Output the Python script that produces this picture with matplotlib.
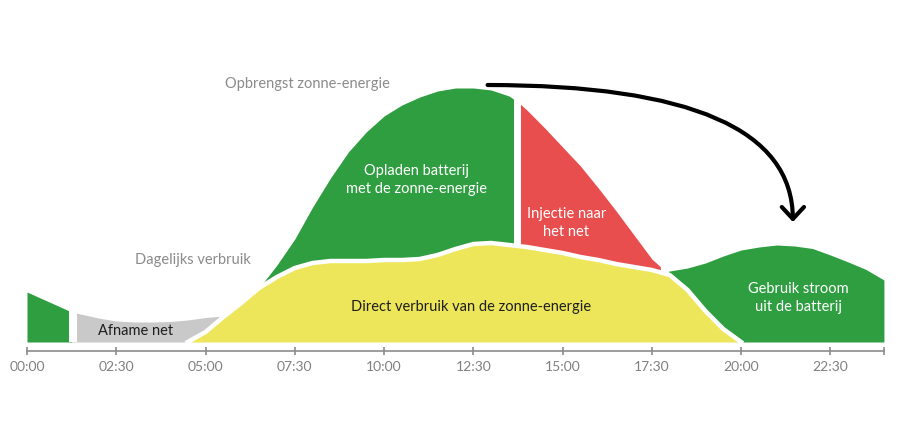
import numpy as np
import matplotlib.pyplot as plt
from matplotlib.patches import FancyArrowPatch

plt.rcParams['font.family'] = ['Lato', 'DejaVu Sans']

# uur van de dag, verbruik en zonne-opbrengst (relatieve hoogte)
hours = np.array([0, 0.5, 1.0, 1.25, 1.5, 2.0, 2.5, 3.0, 3.5, 4.0, 4.5, 5.0, 5.5,
                  6.0, 6.5, 7.0, 7.5, 8.0, 8.5, 9.0, 9.5, 10.0, 10.5, 11.0, 11.5,
                  12.0, 12.5, 13.0, 13.5, 13.75, 14.0, 14.5, 15.0, 15.5, 16.0, 16.5,
                  17.0, 17.5, 18.0, 18.5, 19.0, 19.5, 20.0, 20.5, 21.0, 21.5, 22.0,
                  22.5, 23.0, 23.5, 24.0])
verbruik = np.array([50, 42, 34, 30, 28, 24, 21, 20, 20, 20.5, 22, 24.5, 26,
                     39, 54, 65, 74, 79, 81, 81, 81, 82, 82, 83, 87,
                     93, 98, 99, 97, 96, 95, 92, 89, 85, 82, 78,
                     75, 72, 71, 74, 79, 86, 92, 95, 97, 96, 93.5,
                     87, 80, 72.5, 62])
zon = np.array([0, 0, 0, 0, 0, 0, 0, 0, 0, 0, 0, 10, 25,
                39, 54, 77, 103, 135, 164, 190, 210, 226, 237, 245, 251,
                254, 254, 252, 246, 240, 232, 214, 195, 176, 154, 131,
                107, 83, 67, 52, 31, 13, 0, 0, 0, 0, 0,
                0, 0, 0, 0])

tick_pos = [0, 2.5, 5, 7.5, 10, 12.5, 15, 17.5, 20, 22.5, 24]
tick_labels = ['00:00', '02:30', '05:00', '07:30', '10:00', '12:30',
               '15:00', '17:30', '20:00', '22:30', '']

green = '#2f9e41'
red = '#e94e4f'
yellow = '#ede65a'
grey = '#c9c9c9'
txt_grey = '#8b8b8b'

fig = plt.figure(figsize=(9, 4.21), dpi=100)
ax = fig.add_axes([0, 0, 1, 1])
ax.set_xlim(-0.756, 24.45)
ax.set_ylim(-79, 342)

direct = np.minimum(zon, verbruik)

# batterij 's nachts en afname van het net
ax.fill_between(hours, 0, verbruik, where=hours <= 1.25, color=green, lw=0, zorder=1)
ax.fill_between(hours, zon, verbruik, where=(hours >= 1.25) & (hours <= 5.5),
                color=grey, lw=0, zorder=1)
# overschot zonne-energie: laden en injectie
ax.fill_between(hours, verbruik, zon, where=(zon >= verbruik) & (hours <= 13.75),
                interpolate=True, color=green, lw=0, zorder=1)
ax.fill_between(hours, verbruik, zon, where=(zon >= verbruik) & (hours >= 13.75),
                interpolate=True, color=red, lw=0, zorder=1)
# avond: stroom uit de batterij
ax.fill_between(hours, zon, verbruik, where=(verbruik >= zon) & (hours >= 17.5),
                interpolate=True, color=green, lw=0, zorder=1)

# witte scheidingen
ax.vlines([1.29], 0, 60, color='white', lw=5.8, zorder=1.5)
ax.vlines([13.71], 0, 250, color='white', lw=5.0, zorder=1.5)
ax.vlines([17.86], 60, 85, color='white', lw=6.0, zorder=1.5)

# direct verbruik
m = (hours >= 4.5) & (hours <= 20)
ax.fill_between(hours, 0, direct, where=m, color=yellow, lw=0, zorder=2)
ax.plot(hours[m], direct[m], color='white', lw=3.2, solid_joinstyle='round', zorder=2.5)

# as
for s in ['top', 'left', 'right']:
    ax.spines[s].set_visible(False)
ax.spines['bottom'].set_position(('data', -9))
ax.spines['bottom'].set_bounds(0, 24)
ax.spines['bottom'].set_color('#8c8c8c')
ax.spines['bottom'].set_linewidth(1.2)
ax.set_xticks(tick_pos)
ax.set_xticklabels(tick_labels)
ax.tick_params(axis='x', direction='inout', length=6, width=1.2, color='#8c8c8c',
               labelcolor='#808080', labelsize=10, pad=4)
ax.set_yticks([])

# teksten
fs = 10.5
ax.text(5.55, 258, 'Opbrengst zonne-energie', color=txt_grey, fontsize=fs, va='center')
ax.text(3.03, 82, 'Dagelijks verbruik', color=txt_grey, fontsize=fs, va='center')
ax.text(10.92, 162, 'Opladen batterij\nmet de zonne-energie', color='white',
        fontsize=fs, ha='center', va='center', linespacing=1.35, zorder=4)
ax.text(15.1, 119, 'Injectie naar\nhet net', color='white', fontsize=fs,
        ha='center', va='center', linespacing=1.35, zorder=4)
ax.text(12.44, 35, 'Direct verbruik van de zonne-energie', color='#1e1e1e',
        fontsize=fs, ha='center', va='center', zorder=4)
ax.text(3.03, 11, 'Afname net', color='#1e1e1e', fontsize=fs, ha='center',
        va='center', zorder=4)
ax.text(21.6, 44, 'Gebruik stroom\nuit de batterij', color='white', fontsize=fs,
        ha='center', va='center', linespacing=1.35, zorder=4)

# pijl van de middagpiek naar de avond
arrow = FancyArrowPatch((12.9, 257), (21.45, 120),
                        connectionstyle='angle3,angleA=0,angleB=90',
                        arrowstyle='->,head_length=0.43,head_width=0.4',
                        mutation_scale=20, lw=3, color='black',
                        shrinkA=0, shrinkB=0, zorder=5)
ax.add_patch(arrow)

fig.savefig('out.png', dpi=100)
